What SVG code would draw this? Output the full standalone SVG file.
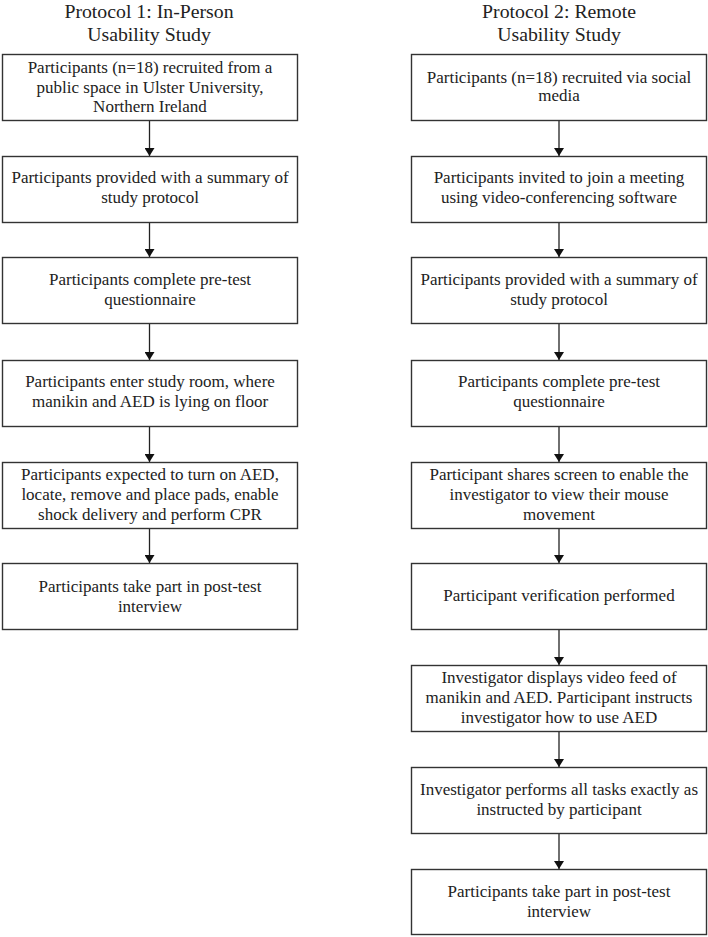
<svg xmlns="http://www.w3.org/2000/svg" width="708" height="937" viewBox="0 0 708 937">
<defs>
<style>
.bx{fill:#fff;stroke:#333;stroke-width:1.4}
.t{font-family:"Liberation Serif","Times New Roman",serif;font-size:17px;fill:#222;text-anchor:middle}
.h{font-family:"Liberation Serif","Times New Roman",serif;font-size:19.8px;fill:#222;text-anchor:middle}
.c{stroke:#222;stroke-width:1.3;fill:none;marker-end:url(#ah)}
</style>
<marker id="ah" viewBox="0 0 8 10" refX="8" refY="5" markerWidth="8" markerHeight="10" markerUnits="userSpaceOnUse" orient="auto">
<path d="M0,0 L8,5 L0,10 Z" fill="#111"/>
</marker>
</defs>
<rect width="708" height="937" fill="#fff"/>
<g id="title1"><text class="h" x="149" y="18">Protocol 1: In-Person</text><text class="h" x="149" y="41">Usability Study</text></g>
<g id="title2"><text class="h" x="559" y="18">Protocol 2: Remote</text><text class="h" x="559" y="41">Usability Study</text></g>
<g id="connectors">
<line class="c" x1="149.5" y1="120" x2="149.5" y2="156"/>
<line class="c" x1="149.5" y1="222" x2="149.5" y2="257"/>
<line class="c" x1="149.5" y1="323" x2="149.5" y2="360"/>
<line class="c" x1="149.5" y1="426" x2="149.5" y2="462"/>
<line class="c" x1="149.5" y1="528" x2="149.5" y2="563"/>
<line class="c" x1="559" y1="120" x2="559" y2="156"/>
<line class="c" x1="559" y1="222" x2="559" y2="257"/>
<line class="c" x1="559" y1="323" x2="559" y2="360"/>
<line class="c" x1="559" y1="426" x2="559" y2="462"/>
<line class="c" x1="559" y1="528" x2="559" y2="563"/>
<line class="c" x1="559" y1="629" x2="559" y2="665"/>
<line class="c" x1="559" y1="731" x2="559" y2="767"/>
<line class="c" x1="559" y1="833" x2="559" y2="869"/>
</g>
<g id="L1"><rect class="bx" x="2.5" y="54.5" width="295" height="66"/><text class="t" x="150" y="73">Participants (n=18) recruited from a</text><text class="t" x="150" y="93">public space in Ulster University,</text><text class="t" x="150" y="112">Northern Ireland</text></g>
<g id="L2"><rect class="bx" x="2.5" y="156.5" width="295" height="66"/><text class="t" x="150" y="183">Participants provided with a summary of</text><text class="t" x="150" y="203">study protocol</text></g>
<g id="L3"><rect class="bx" x="2.5" y="257.5" width="295" height="66"/><text class="t" x="150" y="285">Participants complete pre-test</text><text class="t" x="150" y="305">questionnaire</text></g>
<g id="L4"><rect class="bx" x="2.5" y="360.5" width="295" height="66"/><text class="t" x="150" y="387">Participants enter study room, where</text><text class="t" x="150" y="407">manikin and AED is lying on floor</text></g>
<g id="L5"><rect class="bx" x="2.5" y="462.5" width="295" height="66"/><text class="t" x="150" y="480">Participants expected to turn on AED,</text><text class="t" x="150" y="500">locate, remove and place pads, enable</text><text class="t" x="150" y="520">shock delivery and perform CPR</text></g>
<g id="L6"><rect class="bx" x="2.5" y="563.5" width="295" height="66"/><text class="t" x="150" y="592">Participants take part in post-test</text><text class="t" x="150" y="612">interview</text></g>
<g id="R1"><rect class="bx" x="411.5" y="54.5" width="295" height="66"/><text class="t" x="559" y="83">Participants (n=18) recruited via social</text><text class="t" x="559" y="101">media</text></g>
<g id="R2"><rect class="bx" x="411.5" y="156.5" width="295" height="66"/><text class="t" x="559" y="183">Participants invited to join a meeting</text><text class="t" x="559" y="203">using video-conferencing software</text></g>
<g id="R3"><rect class="bx" x="411.5" y="257.5" width="295" height="66"/><text class="t" x="559" y="285">Participants provided with a summary of</text><text class="t" x="559" y="305">study protocol</text></g>
<g id="R4"><rect class="bx" x="411.5" y="360.5" width="295" height="66"/><text class="t" x="559" y="387">Participants complete pre-test</text><text class="t" x="559" y="407">questionnaire</text></g>
<g id="R5"><rect class="bx" x="411.5" y="462.5" width="295" height="66"/><text class="t" x="559" y="480">Participant shares screen to enable the</text><text class="t" x="559" y="500">investigator to view their mouse</text><text class="t" x="559" y="520">movement</text></g>
<g id="R6"><rect class="bx" x="411.5" y="563.5" width="295" height="66"/><text class="t" x="559" y="601">Participant verification performed</text></g>
<g id="R7"><rect class="bx" x="411.5" y="665.5" width="295" height="66"/><text class="t" x="559" y="683">Investigator displays video feed of</text><text class="t" x="559" y="703">manikin and AED. Participant instructs</text><text class="t" x="559" y="723">investigator how to use AED</text></g>
<g id="R8"><rect class="bx" x="411.5" y="767.5" width="295" height="66"/><text class="t" x="559" y="795">Investigator performs all tasks exactly as</text><text class="t" x="559" y="815">instructed by participant</text></g>
<g id="R9"><rect class="bx" x="411.5" y="869.5" width="295" height="65"/><text class="t" x="559" y="897">Participants take part in post-test</text><text class="t" x="559" y="917">interview</text></g>
</svg>
